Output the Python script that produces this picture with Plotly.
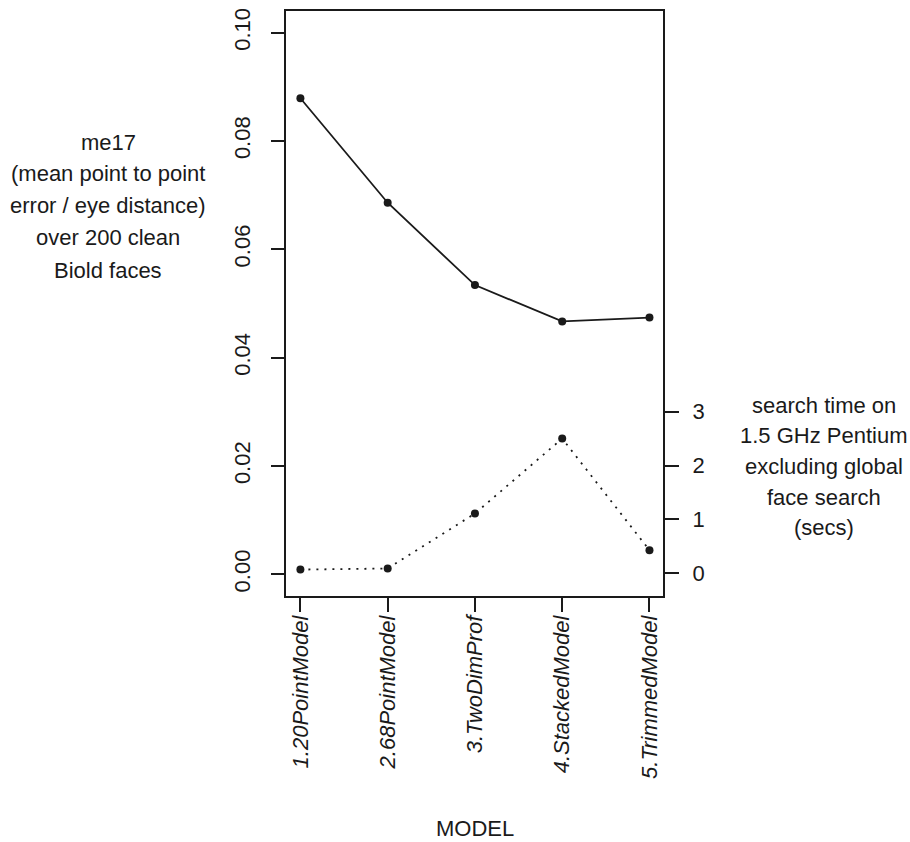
import plotly.graph_objects as go

models = ["1.20PointModel", "2.68PointModel", "3.TwoDimProf", "4.StackedModel", "5.TrimmedModel"]
me17 = [0.0879, 0.0686, 0.0534, 0.0467, 0.0474]
search_secs = [0.07, 0.09, 1.11, 2.50, 0.43]

left_ticks = [0.00, 0.02, 0.04, 0.06, 0.08, 0.10]
right_ticks = [0, 1, 2, 3]

left_label = ["me17", "(mean point to point", "error / eye distance)", "over 200 clean", "Biold faces"]
right_label = ["search time on", "1.5 GHz Pentium", "excluding global", "face search", "(secs)"]

FONT = "Liberation Sans, Arial, Helvetica, sans-serif"
INK = "#1a1a1a"

W, H = 910, 842
L, R, T, B = 286, 247, 8, 246
PW, PH = W - L - R, H - T - B


def px(xp):
    return (xp - L) / PW


def py(yp):
    return (H - B - yp) / PH


fig = go.Figure()
fig.add_trace(go.Scatter(
    x=models, y=me17, mode="lines+markers",
    line=dict(color=INK, width=1.8),
    marker=dict(color=INK, size=8),
    showlegend=False, cliponaxis=False,
))
fig.add_trace(go.Scatter(
    x=models, y=search_secs, mode="lines+markers", yaxis="y2",
    line=dict(color=INK, width=1.8, dash="2px,6px"),
    marker=dict(color=INK, size=8),
    showlegend=False, cliponaxis=False,
))

fig.update_layout(
    width=W, height=H,
    margin=dict(l=L, r=R, t=T, b=B),
    paper_bgcolor="white", plot_bgcolor="white",
    font=dict(family=FONT, size=22, color=INK),
    xaxis=dict(
        type="category", range=[-0.165, 4.155],
        tickvals=models, ticktext=models,
        tickangle=-90, tickfont=dict(family=FONT, size=22, style="italic", color=INK),
        ticks="outside", ticklen=14, tickwidth=1.5, tickcolor=INK,
        showline=True, linecolor=INK, linewidth=1.5, mirror=True,
        showgrid=False, zeroline=False, ticklabelstandoff=-5,
        ticklabeloverflow="allow",
    ),
    yaxis=dict(
        range=[-0.004, 0.104], tickvals=left_ticks,
        ticktext=[f"{v:.2f}" for v in left_ticks],
        tickangle=-90, tickfont=dict(family=FONT, size=22, color=INK),
        ticks="outside", ticklen=13, tickwidth=1.5, tickcolor=INK,
        showline=True, linecolor=INK, linewidth=1.5, mirror=True,
        showgrid=False, zeroline=False, ticklabelstandoff=12,
        ticklabeloverflow="allow",
    ),
    yaxis2=dict(
        overlaying="y", side="right", range=[-0.42, 10.43],
        tickvals=right_ticks, ticktext=[str(v) for v in right_ticks],
        tickfont=dict(family=FONT, size=22, color=INK),
        ticks="outside", ticklen=15, tickwidth=1.5, tickcolor=INK,
        showline=False, showgrid=False, zeroline=False, ticklabelstandoff=9,
        ticklabeloverflow="allow",
    ),
)

left_y = [140, 171, 203, 236, 269]
for txt, yy in zip(left_label, left_y):
    fig.add_annotation(text=txt, xref="paper", yref="paper",
                       x=px(108), y=py(yy),
                       showarrow=False, xanchor="center", yanchor="middle",
                       font=dict(family=FONT, size=22, color=INK))

right_y = [405, 435, 466, 497, 527]
for txt, yy in zip(right_label, right_y):
    fig.add_annotation(text=txt, xref="paper", yref="paper",
                       x=px(824), y=py(yy),
                       showarrow=False, xanchor="center", yanchor="middle",
                       font=dict(family=FONT, size=22, color=INK))

fig.add_annotation(text="MODEL", xref="paper", yref="paper",
                   x=px(475), y=py(830),
                   showarrow=False, xanchor="center", yanchor="middle",
                   font=dict(family=FONT, size=22, color=INK))

fig.write_html(
    "out.html",
    config={"displayModeBar": False},
    post_script="document.body.style.margin='0';document.body.style.overflow='hidden';",
)
